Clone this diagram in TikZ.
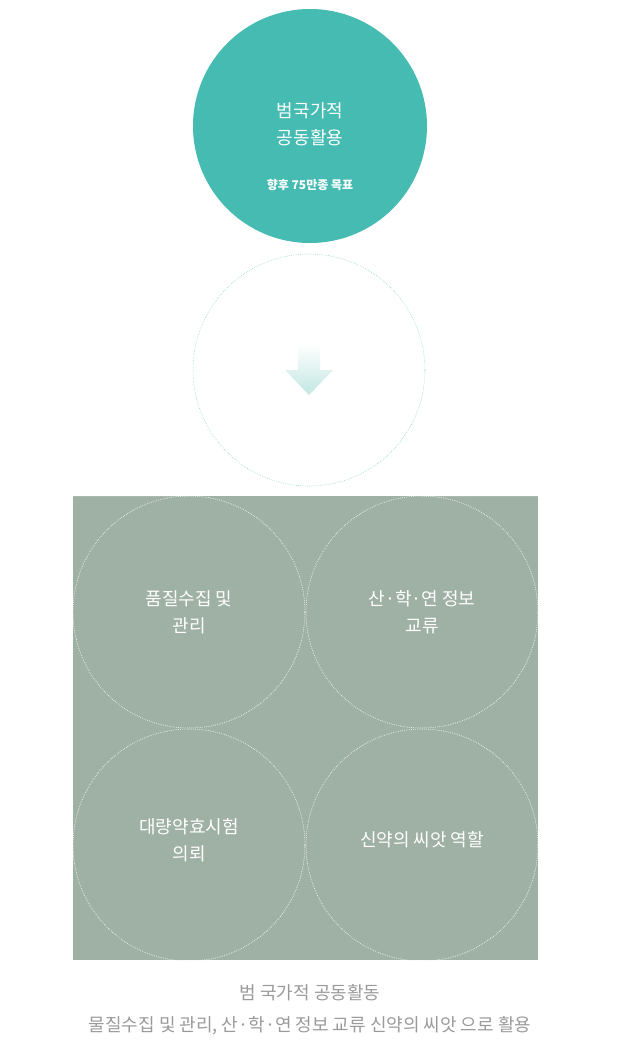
\documentclass[tikz,border=0pt]{standalone}
\usepackage{fontspec}
\newfontfamily\kr{Noto Sans CJK KR}
\usetikzlibrary{shadings}
\definecolor{teal}{HTML}{45BBB2}
\definecolor{sage}{HTML}{9FB0A4}
\definecolor{grayt}{HTML}{9A9A9A}
\definecolor{arr}{HTML}{A8DCD6}
\tikzset{
 wt/.style={text=white,font=\kr\fontsize{13.5}{20}\selectfont,align=center},
 qc/.style={circle,minimum size=174pt,draw=white!85!sage,densely dotted,line width=0.4pt},
}
\begin{document}
\begin{tikzpicture}[x=0.75pt,y=-0.75pt]
\useasboundingbox (0,0) rectangle (624,1060);
\node[circle,fill=teal,minimum size=175.5pt,inner sep=0] (top) at (310,126) {};
\node[wt,font=\kr\fontsize{13.5}{20}\selectfont] (t1) at (310,124) {범국가적\\공동활용};
\node[text=white,font=\kr\bfseries\fontsize{9}{11}\selectfont] (t2) at (310,185) {향후 75만종 목표};
\node[circle,draw=teal!80,densely dotted,line width=0.4pt,minimum size=174pt,inner sep=0] (mid) at (309,370) {};
\shade[top color=white,bottom color=arr!70] (298,343) -- (320,343) -- (320,370) -- (333,370) -- (309,395) -- (285,370) -- (298,370) -- cycle;
\fill[sage] (73,496) rectangle (538,960);
\node[qc,inner sep=0] (c1) at (189,612) {};
\node[qc,inner sep=0] (c2) at (422,612) {};
\node[qc,inner sep=0] (c3) at (189,845) {};
\node[qc,inner sep=0] (c4) at (422,845) {};
\fill[white] (73,496) -- (189,496) arc[start angle=90,end angle=180,radius=116] -- cycle;
\fill[white] (538,496) -- (422,496) arc[start angle=90,end angle=0,radius=116] -- cycle;
\fill[white] (73,961) -- (189,961) arc[start angle=270,end angle=180,radius=116] -- cycle;
\fill[white] (538,961) -- (422,961) arc[start angle=270,end angle=360,radius=116] -- cycle;
\node[qc,inner sep=0] at (189,612) {};
\node[qc,inner sep=0] at (422,612) {};
\node[qc,inner sep=0] at (189,845) {};
\node[qc,inner sep=0] at (422,845) {};
\node[wt] (l1) at (189,612) {품질수집 및\\관리};
\node[wt] (l2) at (422,612) {산·학·연 정보\\교류};
\node[wt] (l3) at (189,840) {대량약효시험\\의뢰};
\node[wt] (l4) at (422,840) {신약의 씨앗 역할};
\node[text=grayt,font=\kr\fontsize{13.5}{20}\selectfont] (b1) at (310,993) {범 국가적 공동활동};
\node[text=grayt,font=\kr\fontsize{13.5}{20}\selectfont] (b2) at (310,1026) {물질수집 및 관리, 산·학·연 정보 교류 신약의 씨앗 으로 활용};
\end{tikzpicture}
\end{document}
